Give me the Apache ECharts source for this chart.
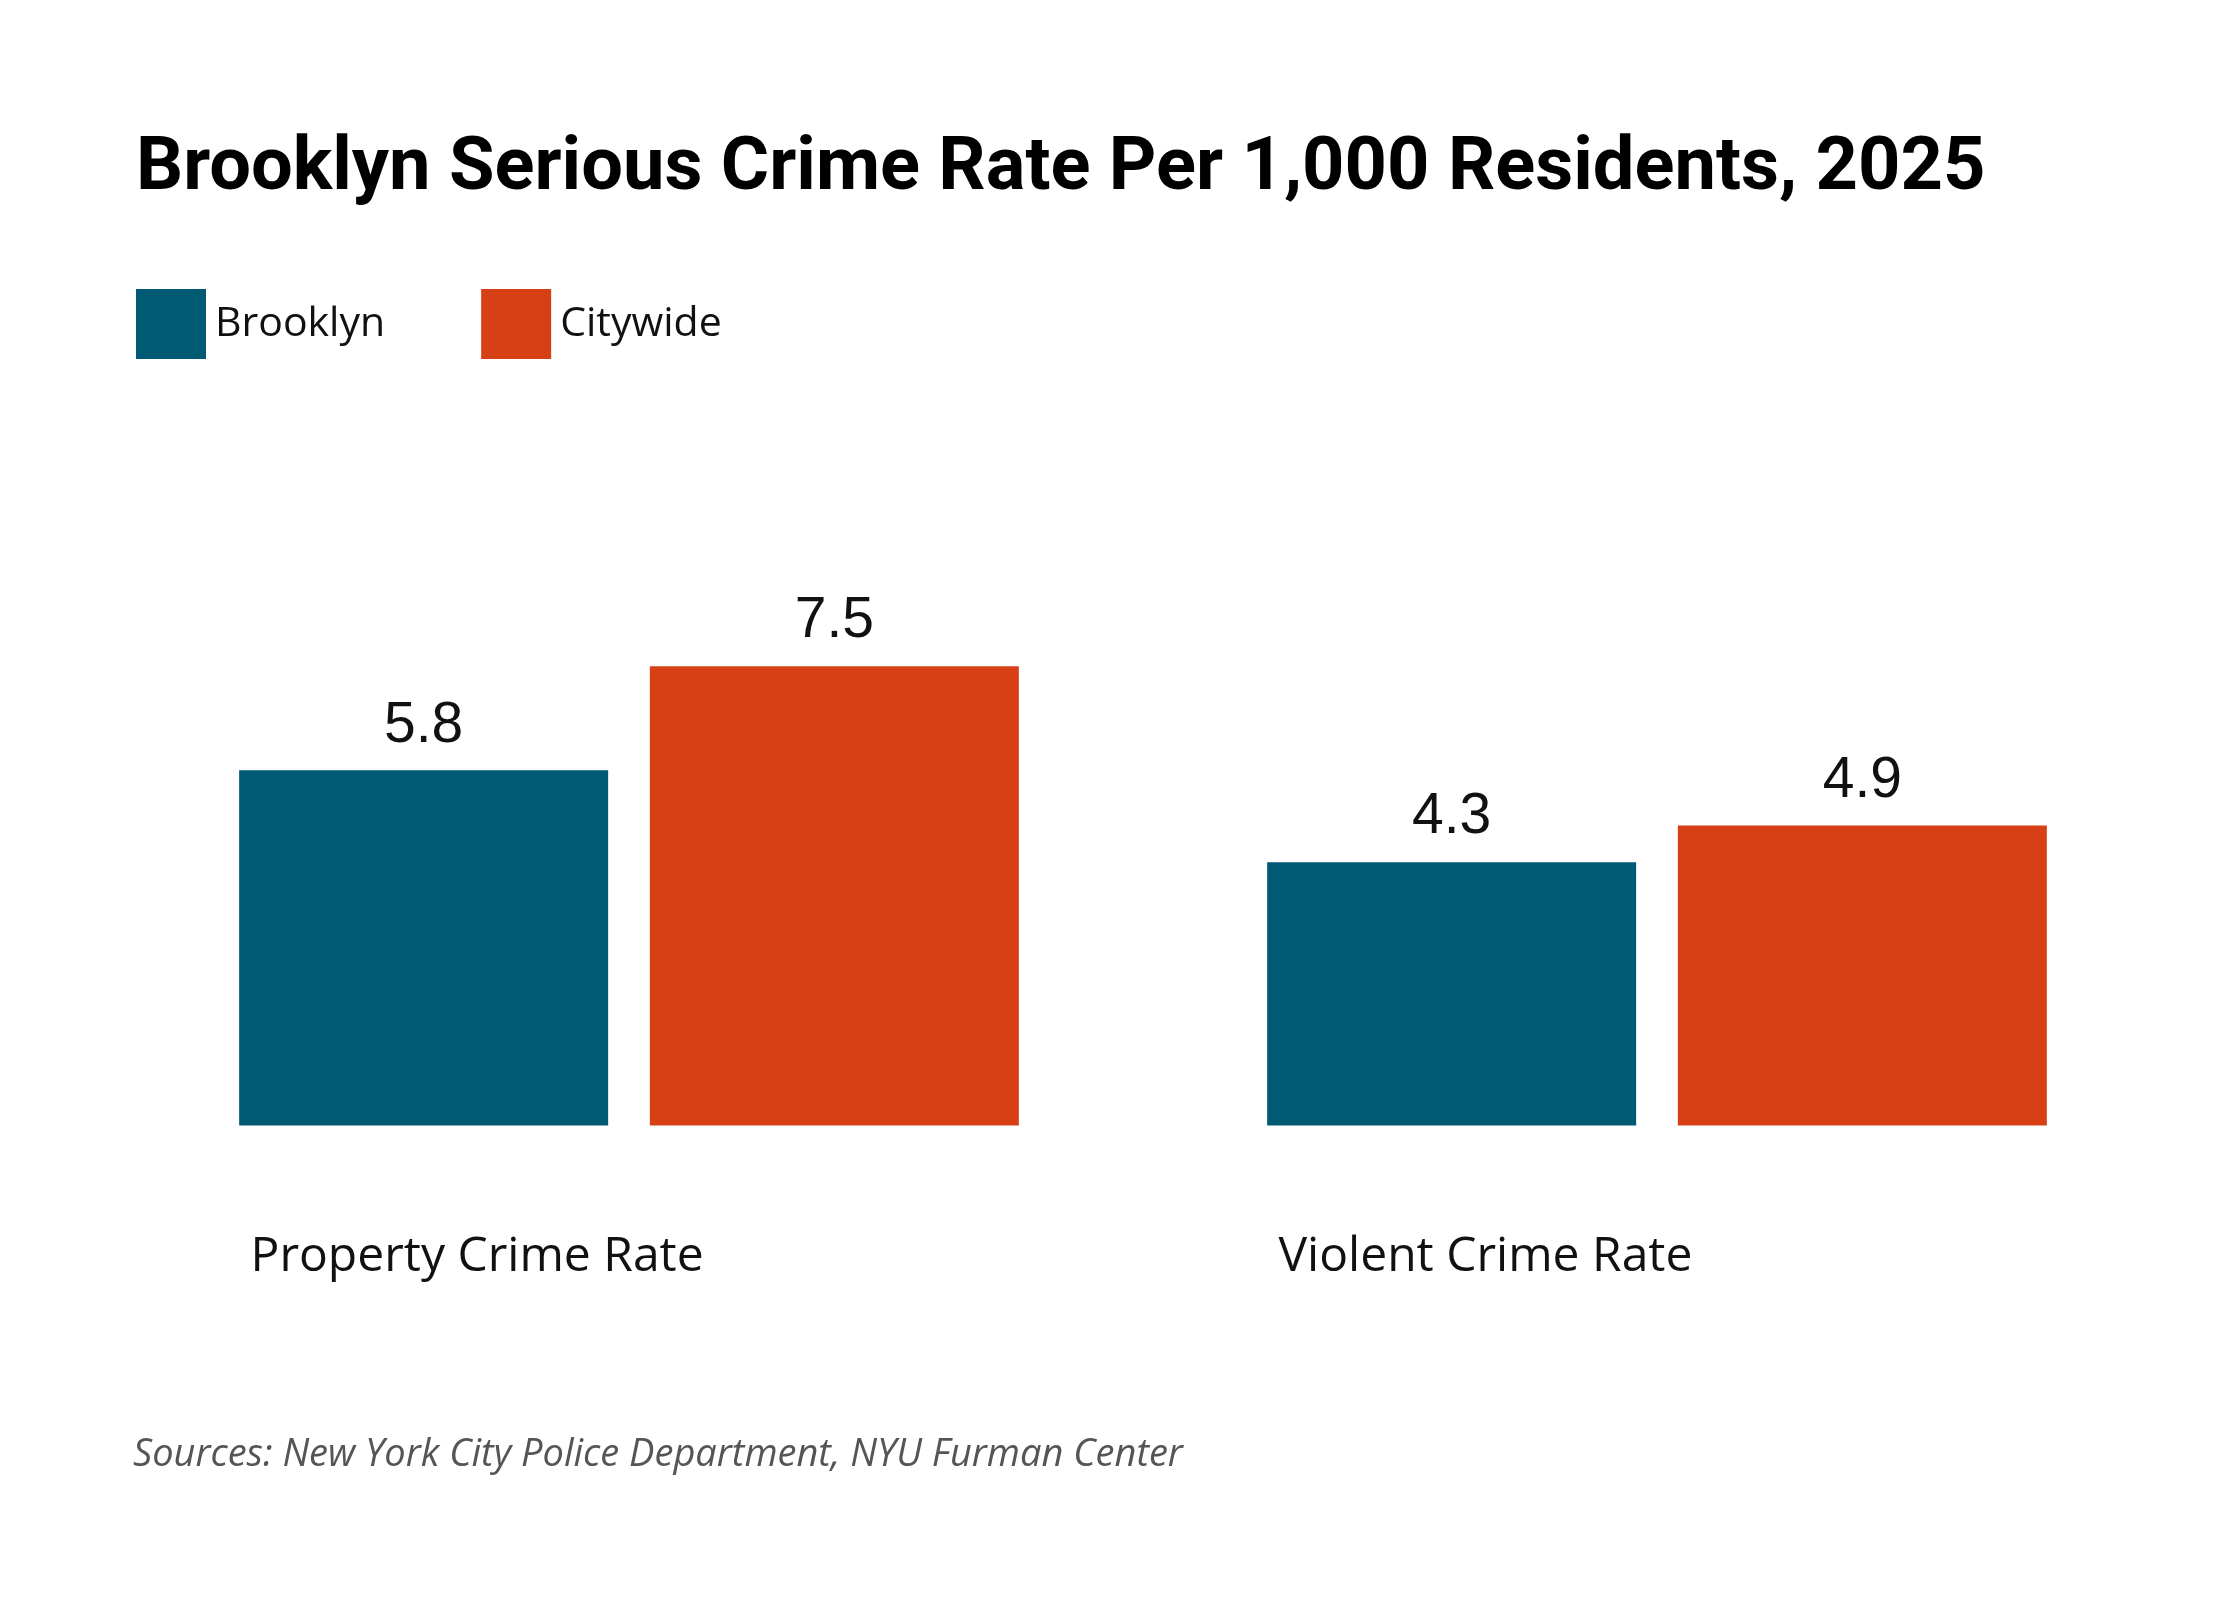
<!DOCTYPE html>
<html>
<head>
<meta charset="utf-8">
<script src="https://cdn.jsdelivr.net/npm/echarts@6/dist/echarts.min.js"></script>
<style>
  html, body { margin: 0; padding: 0; background: #ffffff; }
  #chart { width: 2240px; height: 1600px; }
</style>
</head>
<body>
<div id="chart"></div>
<script>
const categories = ['Property Crime Rate', 'Violent Crime Rate'];
const seriesNames = ['Brooklyn', 'Citywide'];
const brooklynValues = [5.8, 4.3];
const citywideValues = [7.5, 4.9];
const seriesColors = ['#015a74', '#d74015'];

const titleText = 'Brooklyn Serious Crime Rate Per 1,000 Residents, 2025';
const sourceText = 'Sources: New York City Police Department, NYU Furman Center';

const chart = echarts.init(document.getElementById('chart'));

function barSeries(name, values, color) {
    return {
        name: name,
        type: 'bar',
        data: values,
        barWidth: 369,
        barGap: '11.3%',
        itemStyle: { color: color },
        label: {
            show: true,
            position: 'top',
            distance: 16,
            fontFamily: 'Liberation Sans',
            fontSize: 57,
            color: '#111111',
            formatter: p => p.value.toFixed(1)
        }
    };
}

const option = {
    backgroundColor: '#ffffff',
    animation: false,
    title: [
        {
            text: titleText,
            left: 136,
            top: 133,
            padding: 0,
            textStyle: {
                fontFamily: 'Roboto',
                fontWeight: 'bold',
                fontSize: 74,
                color: '#000000'
            }
        },
        {
            text: sourceText,
            left: 133,
            top: 1436,
            padding: 0,
            textStyle: {
                fontFamily: 'Open Sans',
                fontStyle: 'italic',
                fontWeight: 'normal',
                fontSize: 38,
                color: '#555555'
            }
        }
    ],
    legend: {
        left: 136,
        top: 289,
        padding: 0,
        itemWidth: 70,
        itemHeight: 70,
        itemGap: 96,
        icon: 'rect',
        data: seriesNames,
        textStyle: {
            fontFamily: 'Open Sans',
            fontSize: 41,
            color: '#111111',
            width: 170,
            padding: [0, 0, 0, 4]
        }
    },
    grid: {
        left: 115,
        width: 2056,
        top: 513.2,
        bottom: 474.6,
        containLabel: false
    },
    xAxis: {
        type: 'category',
        data: categories,
        axisLine: { show: false },
        axisTick: { show: false },
        axisLabel: {
            margin: 108,
            align: 'center',
            formatter: '{a|{value}}',
            rich: {
                a: {
                    width: 757,
                    align: 'left',
                    fontFamily: 'Open Sans',
                    fontSize: 48,
                    color: '#111111'
                }
            }
        }
    },
    yAxis: {
        type: 'value',
        min: 0,
        max: 10,
        show: false,
        splitLine: { show: false }
    },
    series: [
        barSeries(seriesNames[0], brooklynValues, seriesColors[0]),
        barSeries(seriesNames[1], citywideValues, seriesColors[1])
    ]
};

chart.setOption(option);
</script>
</body>
</html>
